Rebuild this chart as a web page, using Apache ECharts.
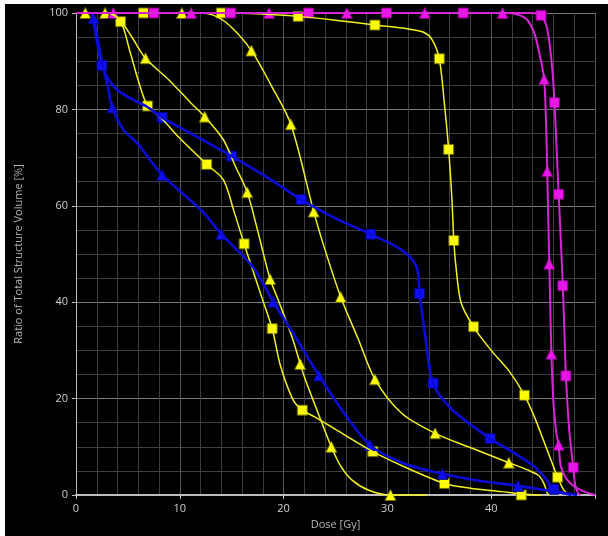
<!DOCTYPE html>
<html>
<head>
<meta charset="utf-8">
<script src="https://cdn.jsdelivr.net/npm/echarts@6/dist/echarts.min.js"></script>
<style>
html,body{margin:0;padding:0;background:#ffffff;width:608px;height:536px;overflow:hidden;}
#chart{position:absolute;left:5px;top:4px;width:603px;height:532px;background:#000;}
</style>
</head>
<body>
<div id="chart"></div>
<script>
// ---- tick labels ----
const xTickLabels = [0, 10, 20, 30, 40];
const yTickLabels = [0, 20, 40, 60, 80, 100];

// ---- magenta, square markers ----
const magSqCurve = [[0,100],[44,100],[44.8,99.5],[45.3,97.5],[45.6,94],[45.9,88],[46.1,81.4],[46.3,72],[46.5,62.4],[46.7,53],[46.9,43.4],[47.05,34],[47.2,24.7],[47.5,14],[47.9,5.7],[48.1,2],[48.4,0.3],[48.6,0]];
const magSqMarks = [[7.5,100],[14.9,100],[22.4,100],[29.9,100],[37.3,100],[44.8,99.5],[46.1,81.4],[46.5,62.4],[46.9,43.4],[47.2,24.7],[47.9,5.7]];

// ---- magenta, triangle markers ----
const magTriCurve = [[0,100],[41.1,100],[42.5,99.7],[43.5,98.5],[44.2,95.5],[44.7,91],[45.1,86.3],[45.3,76],[45.4,67.2],[45.5,57],[45.6,48],[45.7,38],[45.8,29.3],[46,19],[46.3,12.5],[46.5,10.4],[46.7,6],[47.2,3.5],[48,1.8],[49,0.7],[50,0]];
const magTriMarks = [[3.6,100],[11.1,100],[18.6,100],[26.1,100],[33.6,100],[41.1,100],[45.1,86.3],[45.4,67.2],[45.6,48],[45.8,29.3],[46.5,10.4]];

// ---- yellow, square markers (high dose) ----
const yelSqHiCurve = [[0,100],[14,100],[18,99.8],[21.4,99.3],[25,98.5],[28.8,97.5],[32,96.7],[33.5,96],[34.3,94.5],[35,90.5],[35.5,81],[35.9,71.7],[36.2,62],[36.4,52.8],[36.6,47.5],[37.1,39.9],[38.3,34.9],[40,30],[41.8,25.5],[43.2,20.7],[44.2,16],[45.1,11],[45.8,7],[46.4,3.7],[47,1],[47.5,0]];
const yelSqHiMarks = [[6.5,100],[14,100],[21.4,99.3],[28.8,97.5],[35,90.5],[35.9,71.7],[36.4,52.8],[38.3,34.9],[43.2,20.7],[46.4,3.7]];

// ---- yellow, square markers (low dose) ----
const yelSqLoCurve = [[0,100],[3,100],[4.3,98.2],[5.2,92],[6,86],[6.9,80.7],[8.3,78],[10,74],[12.6,68.6],[14.2,65.4],[15.2,59],[16.2,52.1],[16.9,47.5],[17.9,41],[18.9,34.5],[19.7,26.8],[20.9,19.8],[21.8,17.6],[23,16.2],[25,13.6],[28.6,9.0],[32,5.5],[35.5,2.4],[38,1.4],[41,0.7],[42.9,0.2],[44.8,0]];
const yelSqLoMarks = [[4.3,98.2],[6.9,80.7],[12.6,68.6],[16.2,52.1],[18.9,34.5],[21.8,17.6],[28.6,9.0],[35.5,2.4],[42.9,0]];

// ---- yellow, triangle markers (low dose) ----
const yelTriLoCurve = [[0,100],[3.3,100],[4.3,98.4],[5.5,94.6],[6.7,90.6],[9,86],[11,81.5],[12.4,78.5],[14.2,73.7],[15.4,68],[16.5,62.8],[17.6,54],[18.7,44.8],[19.6,39.8],[20.9,32.2],[21.6,27.2],[22.1,23.9],[23.7,14.9],[24.6,10.0],[25.5,6],[26.6,3.1],[28.2,1.0],[30.3,0],[33.8,0]];
const yelTriLoMarks = [[0.9,100],[6.7,90.6],[12.4,78.5],[16.5,62.8],[18.7,44.8],[21.6,27.2],[24.6,10.0],[30.3,0]];

// ---- yellow, triangle markers (mid dose) ----
const yelTriMidCurve = [[0,100],[12,100],[13.5,99.3],[15,97],[16.9,92.2],[18.8,85],[20.7,76.9],[22.9,58.8],[24,50.8],[25.5,41.1],[27.2,32.3],[28.8,24.0],[31.4,16.9],[34.6,12.8],[37.8,10.0],[41.7,6.7],[43.5,5.2],[44.6,4],[45.1,2.3],[45.4,0.4],[45.6,0]];
const yelTriMidMarks = [[2.8,100],[10.2,100],[16.9,92.2],[20.7,76.9],[22.9,58.8],[25.5,41.1],[28.8,24.0],[34.6,12.8],[41.7,6.7]];

// ---- blue, square markers ----
const bluSqCurve = [[1.5,100],[1.9,95.5],[2.5,89.1],[3.2,86],[4.0,84.0],[5.5,82],[6.8,80.6],[8.3,78.3],[12.2,73.7],[15.0,70.3],[18.5,65.8],[21.7,61.3],[25.0,57.4],[28.4,54.1],[31.4,50.8],[32.8,47.4],[33.1,41.8],[33.6,33.7],[34.4,23.2],[36.2,17.8],[39.9,11.7],[42,9],[44.1,6.0],[45.3,3.3],[46.0,1.2],[47.7,0]];
const bluSqMarks = [[2.5,89.1],[8.3,78.3],[15.0,70.3],[21.7,61.3],[28.4,54.1],[33.1,41.8],[34.4,23.2],[39.9,11.7],[46.0,1.2]];

// ---- blue, triangle markers ----
const bluTriCurve = [[1.5,100],[1.7,98.9],[2.5,90],[3.0,85.4],[3.5,80.4],[4.6,75.7],[5.9,73.0],[8.3,66.4],[12.2,58.8],[14.0,54.1],[17.0,47.4],[19.0,40.1],[21.3,32.2],[23.4,24.8],[26,16.5],[28.3,10.4],[31.4,6.7],[35.3,4.4],[39.0,2.9],[42.6,1.9],[45,1.1],[46.7,0.5],[48.3,0]];
const bluTriMarks = [[1.7,98.9],[3.5,80.4],[8.3,66.4],[14.0,54.1],[19.0,40.1],[23.4,24.8],[28.3,10.4],[35.3,4.4],[42.6,1.9]];

const YEL = '#f2f21e', YEL_M = '#ffff00', YEL_B = '#6b6b00';
const BLU = '#0c0cd8', BLU_M = '#1010ff', BLU_B = '#00007a';
const MAG = '#d624d6', MAG_M = '#f010f0', MAG_B = '#7a007a';

function curve(data, color, width) {
  return { type: 'line', data: data, showSymbol: false, symbol: 'none', smooth: 0.3,
    lineStyle: { color: color, width: width }, silent: true, animation: false, clip: false };
}
function marks(data, shape, fill, border, size) {
  return { type: 'scatter', data: data, symbol: shape, symbolSize: size,
    itemStyle: { color: fill, borderColor: border, borderWidth: 1, opacity: 1 }, silent: true, animation: false, clip: false };
}

const chart = echarts.init(document.getElementById('chart'), null, { renderer: 'canvas' });
const lblFont = '"Open Sans", "Noto Sans", sans-serif';
chart.setOption({
  backgroundColor: '#000000',
  animation: false,
  grid: { left: 67, top: 9, right: 13, bottom: 41, containLabel: false },
  xAxis: {
    type: 'value', min: 0, max: 50, interval: 10,
    name: 'Dose [Gy]', nameLocation: 'middle', nameGap: 22,
    nameTextStyle: { color: '#b4b4b4', fontSize: 11, fontFamily: lblFont },
    axisLine: { show: true, onZero: false, lineStyle: { color: '#bdbdbd', width: 2 } },
    axisTick: { show: true, length: 4, lineStyle: { color: '#bdbdbd' } },
    axisLabel: { color: '#cfcfcf', fontSize: 11, fontFamily: lblFont, margin: 8,
      formatter: v => xTickLabels.indexOf(v) >= 0 ? String(v) : '' },
    splitLine: { show: true, lineStyle: { color: '#555555', width: 1 } },
    minorTick: { show: false, splitNumber: 5 },
    minorSplitLine: { show: true, lineStyle: { color: '#3e3e3e', width: 1 } }
  },
  yAxis: {
    type: 'value', min: 0, max: 100, interval: 20,
    name: 'Ratio of Total Structure Volume [%]', nameLocation: 'middle', nameGap: 52,
    nameTextStyle: { color: '#b4b4b4', fontSize: 11, fontFamily: lblFont },
    axisLine: { show: true, onZero: false, lineStyle: { color: '#bdbdbd', width: 1 } },
    axisTick: { show: true, length: 4, lineStyle: { color: '#bdbdbd' } },
    axisLabel: { color: '#cfcfcf', fontSize: 11, fontFamily: lblFont, margin: 8,
      formatter: v => yTickLabels.indexOf(v) >= 0 ? String(v) : '' },
    splitLine: { show: true, lineStyle: { color: '#7a7a7a', width: 1 } },
    minorTick: { show: false, splitNumber: 4 },
    minorSplitLine: { show: true, lineStyle: { color: '#3e3e3e', width: 1 } }
  },
  series: [
    curve(yelSqLoCurve, YEL, 1.5),
    curve(yelTriLoCurve, YEL, 1.5),
    curve(yelTriMidCurve, YEL, 1.5),
    curve(yelSqHiCurve, YEL, 1.5),
    marks(yelSqLoMarks, 'rect', YEL_M, YEL_B, 10),
    marks(yelTriLoMarks, 'triangle', YEL_M, YEL_B, 11),
    marks(yelTriMidMarks, 'triangle', YEL_M, YEL_B, 11),
    marks(yelSqHiMarks, 'rect', YEL_M, YEL_B, 10),
    curve(bluSqCurve, BLU, 2.6),
    curve(bluTriCurve, BLU, 2.6),
    marks(bluSqMarks, 'rect', BLU_M, BLU_B, 10),
    marks(bluTriMarks, 'triangle', BLU_M, BLU_B, 11),
    curve(magTriCurve, MAG, 2),
    curve(magSqCurve, MAG, 2),
    marks(magTriMarks, 'triangle', MAG_M, MAG_B, 11),
    marks(magSqMarks, 'rect', MAG_M, MAG_B, 10)
  ]
});
</script>
</body>
</html>
